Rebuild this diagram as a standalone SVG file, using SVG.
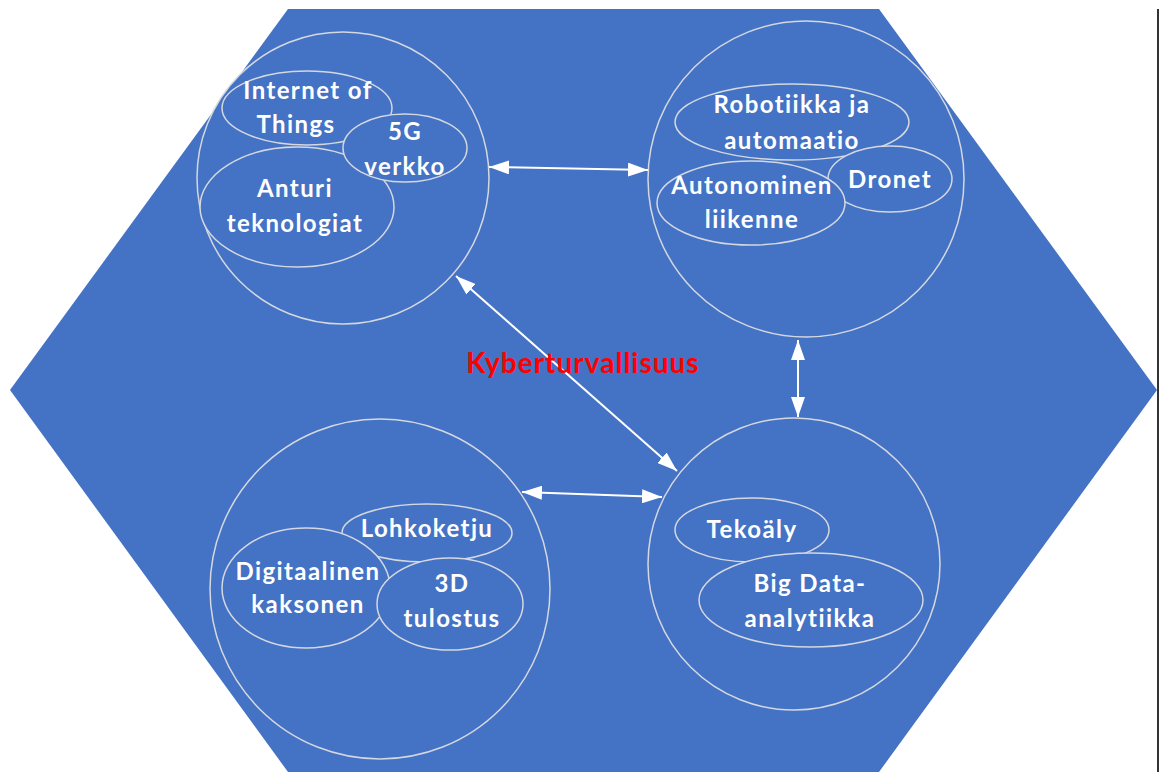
<svg xmlns="http://www.w3.org/2000/svg" width="1165" height="772" viewBox="0 0 1165 772">
  <defs>
    <style>
      .bg { fill: #ffffff; }
      .hex { fill: #4472C4; }
      .ring { fill: #4472C4; stroke: #d4d8e0; stroke-width: 1.5; }
      .lbl { font-family: Lato, "Open Sans", sans-serif; font-weight: 700; font-size: 24px; letter-spacing: 1.4px; fill: #ffffff; text-anchor: middle; }
      .title { font-family: Lato, "Open Sans", sans-serif; font-weight: 700; font-size: 28px; letter-spacing: 1px; fill: #ff0000; text-anchor: middle; }
      .conn { stroke: #ffffff; stroke-width: 2; fill: none; marker-start: url(#tip); marker-end: url(#tip); }
    </style>
    <marker id="tip" viewBox="0 0 20 14" refX="20" refY="7" markerWidth="20" markerHeight="14" markerUnits="userSpaceOnUse" orient="auto-start-reverse">
      <path d="M0,0 L20,7 L0,14 z" fill="#ffffff"/>
    </marker>
  </defs>

  <rect class="bg" x="0" y="0" width="1165" height="772"/>
  <!-- page edge on the right -->
  <line x1="1158" y1="9" x2="1158" y2="772" stroke="#333333" stroke-width="2"/>

  <!-- hexagon background -->
  <polygon class="hex" points="288,9 879,9 1157,390 879,772 288,772 10,390"/>

  <g id="node-connectivity">
    <circle class="ring" cx="343" cy="178" r="146"/>
    <ellipse class="ring" cx="307" cy="108" rx="85" ry="37"/>
    <ellipse class="ring" cx="297" cy="207" rx="97" ry="60"/>
    <ellipse class="ring" cx="405" cy="148" rx="62" ry="34"/>
    <text class="lbl" x="308" y="99">Internet of</text>
    <text class="lbl" x="296" y="133">Things</text>
    <text class="lbl" x="405" y="140">5G</text>
    <text class="lbl" x="405" y="175">verkko</text>
    <text class="lbl" x="295" y="197">Anturi</text>
    <text class="lbl" x="295" y="232">teknologiat</text>
  </g>

  <g id="node-automation">
    <circle class="ring" cx="806" cy="179" r="158"/>
    <ellipse class="ring" cx="792" cy="122" rx="117" ry="38"/>
    <ellipse class="ring" cx="890" cy="179" rx="62" ry="33"/>
    <ellipse class="ring" cx="751" cy="203" rx="94" ry="42"/>
    <text class="lbl" x="792" y="113">Robotiikka ja</text>
    <text class="lbl" x="792" y="149">automaatio</text>
    <text class="lbl" x="890" y="188">Dronet</text>
    <text class="lbl" x="752" y="194">Autonominen</text>
    <text class="lbl" x="752" y="228">liikenne</text>
  </g>

  <g id="node-data">
    <circle class="ring" cx="794" cy="564" r="146"/>
    <ellipse class="ring" cx="752" cy="530" rx="77" ry="32"/>
    <ellipse class="ring" cx="811" cy="600" rx="112" ry="47"/>
    <text class="lbl" x="752" y="538">Tekoäly</text>
    <text class="lbl" x="810" y="592">Big Data-</text>
    <text class="lbl" x="810" y="627">analytiikka</text>
  </g>

  <g id="node-production">
    <circle class="ring" cx="380" cy="589" r="170"/>
    <ellipse class="ring" cx="427" cy="533" rx="85" ry="29"/>
    <ellipse class="ring" cx="306" cy="588" rx="84" ry="60"/>
    <ellipse class="ring" cx="450" cy="604" rx="73" ry="46"/>
    <text class="lbl" x="427" y="537">Lohkoketju</text>
    <text class="lbl" x="308" y="580">Digitaalinen</text>
    <text class="lbl" x="308" y="613">kaksonen</text>
    <text class="lbl" x="452" y="592">3D</text>
    <text class="lbl" x="452" y="627">tulostus</text>
  </g>

  <g id="connectors">
    <line class="conn" x1="489" y1="167" x2="648" y2="170"/>
    <line class="conn" x1="798" y1="340" x2="798" y2="417"/>
    <line class="conn" x1="456" y1="276" x2="677" y2="471"/>
    <line class="conn" x1="522" y1="492" x2="662" y2="497"/>
  </g>

  <g id="node-security">
    <text class="title" x="583" y="373">Kyberturvallisuus</text>
  </g>
</svg>
